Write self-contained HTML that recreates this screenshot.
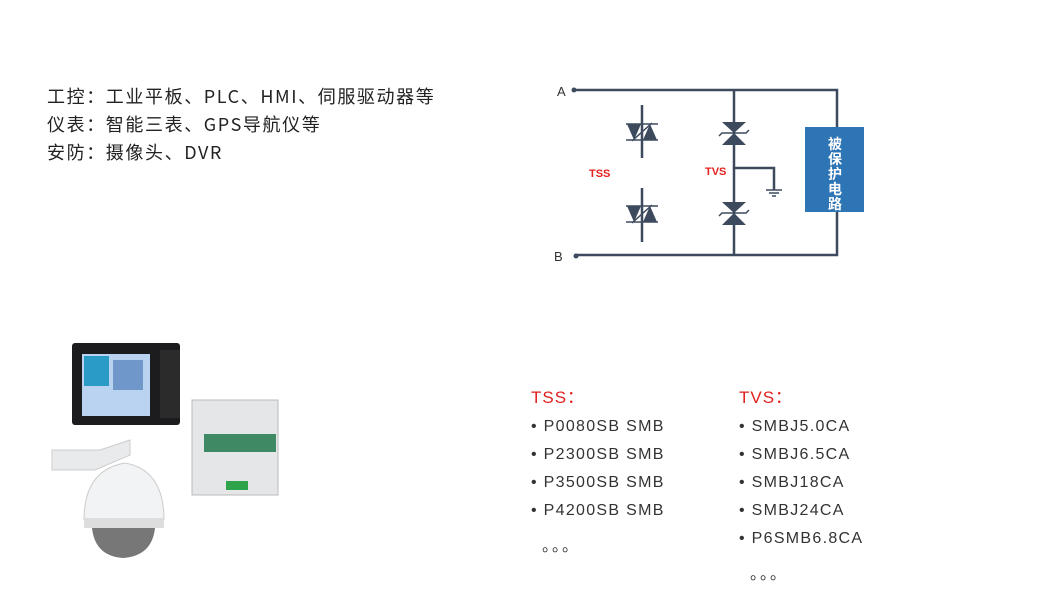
<!DOCTYPE html>
<html><head><meta charset="utf-8"><style>
body{margin:0;width:1048px;height:600px;background:#fff;position:relative;overflow:hidden;font-family:"Liberation Sans","Noto Sans CJK SC",sans-serif}
.t{position:absolute;left:47px;font-size:18px;color:#222;white-space:nowrap;font-family:"Noto Sans CJK SC",sans-serif;letter-spacing:1.6px;line-height:24px}
.l{position:absolute;font-size:16px;color:#333;letter-spacing:1.3px;white-space:nowrap}
.h{color:#e0201e;font-size:17px;letter-spacing:1px;line-height:20px}
.d{position:absolute;font-family:"Noto Sans CJK SC",sans-serif;font-size:16px;color:#333;letter-spacing:2px}
</style></head><body>
<div class="t" style="top:84px">工控：工业平板、PLC、HMI、伺服驱动器等</div>
<div class="t" style="top:112px">仪表：智能三表、GPS导航仪等</div>
<div class="t" style="top:140px">安防：摄像头、DVR</div>

<svg style="position:absolute;left:0;top:0" width="1048" height="600">
<g stroke="#3d4a5e" stroke-width="2.5" fill="none">
<path d="M574 90H837V128M837 211V255H576M734 90V255M734 168H774V190"/>
<path d="M642 105V158M642 188V242"/>
</g>
<g stroke="#3d4a5e" stroke-width="1.5"><path d="M766 190H782M769 193H779M772 196H776"/></g>
<circle cx="574" cy="90" r="2.5" fill="#3d4a5e"/><circle cx="576" cy="256" r="2.5" fill="#3d4a5e"/>
<g fill="#3d4a5e">
<path d="M627 124H641L634 140Z M643 140H657L650 124Z"/>
<path d="M627 206H641L634 222Z M643 222H657L650 206Z"/>
<path d="M722 122L734 133L746 122Z M722 145L734 133L746 145Z"/>
<path d="M722 202L734 213L746 202Z M722 225L734 213L746 225Z"/>
</g>
<g stroke="#3d4a5e" stroke-width="1.5" fill="none">
<path d="M626 140H658M626 124H658M626 222H658M626 206H658M632 141L652 123M632 223L652 205"/>
<path d="M719 136L722 133H746L749 130M719 216L722 213H746L749 210"/>
</g>
<rect x="805" y="127" width="59" height="85" fill="#2e75b6"/>
<text x="557" y="96" font-size="13" fill="#333">A</text>
<text x="554" y="261" font-size="13" fill="#333">B</text>
<text x="589" y="177" font-size="11" font-weight="bold" fill="#e61e1e">TSS</text>
<text x="705" y="175" font-size="11" font-weight="bold" fill="#e61e1e">TVS</text>
<g font-size="14" font-weight="bold" fill="#fff" text-anchor="middle" font-family="Noto Sans CJK SC,sans-serif">
<text x="835" y="149">被</text><text x="835" y="164">保</text><text x="835" y="179">护</text><text x="835" y="194">电</text><text x="835" y="209">路</text></g>

<rect x="72" y="343" width="108" height="82" rx="3" fill="#1c1c1e"/>
<rect x="160" y="350" width="20" height="68" fill="#2b2b2b"/>
<rect x="82" y="354" width="68" height="62" fill="#b9d3f0"/>
<rect x="84" y="356" width="25" height="30" fill="#2a9bc4"/>
<rect x="113" y="360" width="30" height="30" fill="#4070b0" opacity=".6"/>
<rect x="192" y="400" width="86" height="95" fill="#e4e6e8" stroke="#bbb"/>
<rect x="204" y="434" width="72" height="18" fill="#3f8a64"/>
<rect x="226" y="481" width="22" height="9" fill="#2ea34a"/>
<path d="M52 450H100L130 440V455L95 470H52Z" fill="#e9eaec" stroke="#ccc"/>
<path d="M84 520Q84 470 125 463Q164 470 164 520Z" fill="#f2f3f4" stroke="#ccc"/>
<path d="M92 528Q95 556 123 558Q152 556 155 528Z" fill="#777"/>
<rect x="84" y="518" width="80" height="10" fill="#ddd"/>
</svg>

<div class="l h" style="left:531px;top:388px">TSS：</div>
<div class="l" style="left:531px;top:418px">• P0080SB SMB</div>
<div class="l" style="left:531px;top:446px">• P2300SB SMB</div>
<div class="l" style="left:531px;top:474px">• P3500SB SMB</div>
<div class="l" style="left:531px;top:502px">• P4200SB SMB</div>
<div class="d" style="left:542px;top:532px">。。。</div>
<div class="l h" style="left:739px;top:388px">TVS：</div>
<div class="l" style="left:739px;top:418px">• SMBJ5.0CA</div>
<div class="l" style="left:739px;top:446px">• SMBJ6.5CA</div>
<div class="l" style="left:739px;top:474px">• SMBJ18CA</div>
<div class="l" style="left:739px;top:502px">• SMBJ24CA</div>
<div class="l" style="left:739px;top:530px">• P6SMB6.8CA</div>
<div class="d" style="left:750px;top:560px">。。。</div>
</body></html>
